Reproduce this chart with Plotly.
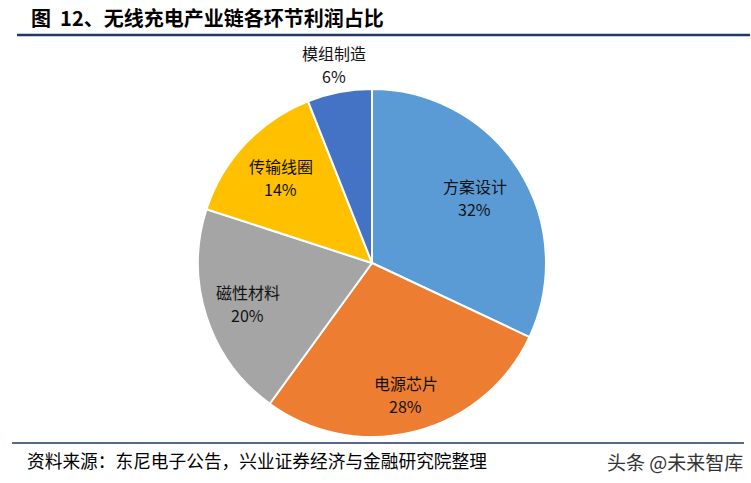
import math
import plotly.graph_objects as go

labels = ["方案设计", "电源芯片", "磁性材料", "传输线圈", "模组制造"]
values = [32, 28, 20, 14, 6]
colors = ["#5B9BD5", "#ED7D31", "#A5A5A5", "#FFC000", "#4472C4"]
label_radius = [0.70, 0.78, 0.75, 0.72, 1.16]

W, H = 751, 483
cx, cy, r = 372, 263, 174

fig = go.Figure()
fig.add_trace(go.Pie(
    labels=labels, values=values, sort=False, direction="clockwise", rotation=0,
    marker=dict(colors=colors, line=dict(color="white", width=2)),
    textinfo="none",
    domain=dict(x=[(cx - r) / W, (cx + r) / W], y=[1 - (cy + r) / H, 1 - (cy - r) / H]),
    showlegend=False, hoverinfo="label+percent",
))

total = sum(values)
cum = 0
lab_font = dict(family="Noto Sans CJK SC, Liberation Serif", size=16, color="#111111")
for lab, v, k in zip(labels, values, label_radius):
    mid = (cum + v / 2) / total * 2 * math.pi
    cum += v
    px = cx + k * r * math.sin(mid)
    py = cy - k * r * math.cos(mid)
    fig.add_annotation(text=lab, x=px / W, y=1 - (py - 11.5) / H, xref="paper", yref="paper",
                       xanchor="center", yanchor="middle", showarrow=False, font=lab_font)
    fig.add_annotation(text=f"{v}%", x=px / W, y=1 - (py + 11.5) / H, xref="paper", yref="paper",
                       xanchor="center", yanchor="middle", showarrow=False, font=lab_font)

fig.add_annotation(text="<b>图  12、无线充电产业链各环节利润占比</b>", x=29 / W, y=1 - 18 / H,
                   xref="paper", yref="paper", xanchor="left", yanchor="middle", showarrow=False,
                   font=dict(family="Noto Sans CJK SC", size=20, color="#000000"))
fig.add_annotation(text="资料来源：东尼电子公告，兴业证券经济与金融研究院整理", x=25 / W, y=1 - 460 / H,
                   xref="paper", yref="paper", xanchor="left", yanchor="middle", showarrow=False,
                   font=dict(family="Noto Sans CJK SC", size=17.7, color="#000000"))
fig.add_annotation(text="头条 @未来智库", x=745 / W, y=1 - 461 / H,
                   xref="paper", yref="paper", xanchor="right", yanchor="middle", showarrow=False,
                   font=dict(family="Noto Sans CJK SC", size=19, color="#333333"))

fig.add_shape(type="line", x0=17 / W, x1=750 / W, y0=1 - 35 / H, y1=1 - 35 / H, xref="paper", yref="paper",
              line=dict(color="#1F3864", width=2.5))
fig.add_shape(type="line", x0=12 / W, x1=744 / W, y0=1 - 443 / H, y1=1 - 443 / H, xref="paper", yref="paper",
              line=dict(color="#1F3864", width=1.5))

fig.update_layout(width=W, height=H, margin=dict(l=0, r=0, t=0, b=0),
                  paper_bgcolor="white", plot_bgcolor="white")
fig.write_html("out.html")
